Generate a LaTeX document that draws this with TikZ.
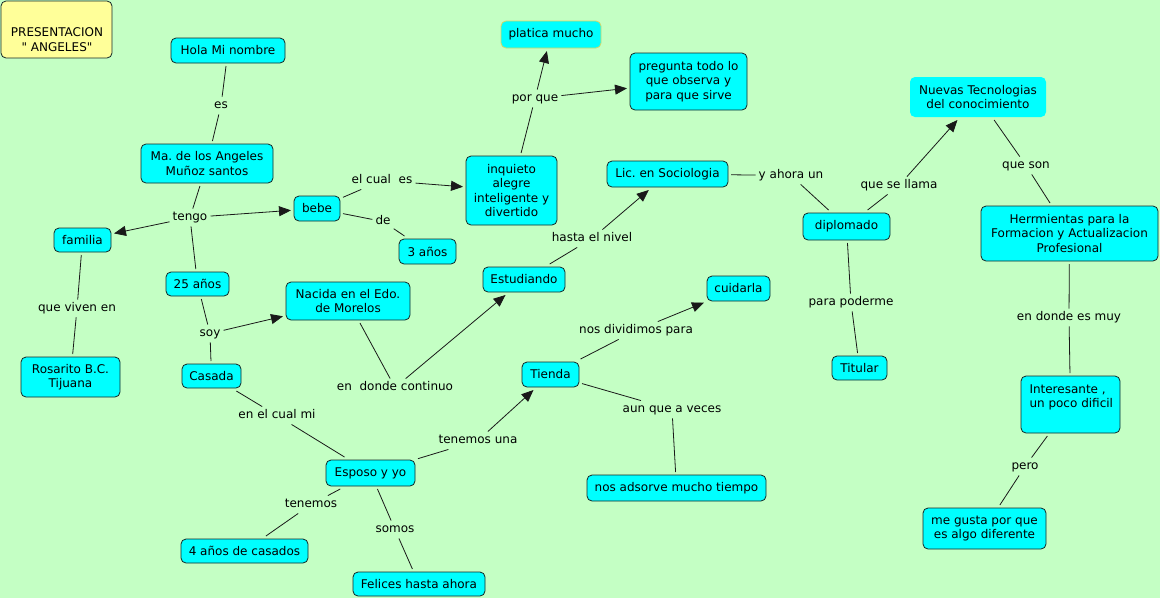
\documentclass[tikz,border=0pt]{standalone}
\usepackage{fontspec}
\setmainfont{DejaVu Sans}
\newfontfamily\dv{DejaVu Sans}
\usetikzlibrary{arrows.meta}
\definecolor{bg}{RGB}{196,255,196}
\definecolor{cy}{RGB}{0,255,255}
\definecolor{py}{RGB}{255,255,153}
\definecolor{lnk}{RGB}{25,25,25}
\definecolor{ylb}{RGB}{215,215,100}
\definecolor{bdr}{RGB}{20,40,40}
\frenchspacing
\begin{document}
\begin{tikzpicture}[x=1pt,y=-1pt,
 concept/.style={draw=bdr, fill=cy, rounded corners=5pt, line width=0.8pt, inner sep=0pt, outer sep=3pt, align=center, font=\dv\fontsize{12}{14.5}\selectfont},
 sz/.style 2 args={minimum width=#1pt, minimum height=#2pt},
 phrase/.style={inner sep=3pt, yshift=-1.5pt, font=\dv\fontsize{12}{14.5}\selectfont, text height=8.7pt, text depth=2.8pt},
 ln/.style={draw=lnk, line width=0.8pt},
 arr/.style={ln, -{Triangle[length=12pt,width=10pt]}},
]
\useasboundingbox (0,0) rectangle (1160,598);
\fill[bg] (0,0) rectangle (1160,598);

% title
\node[concept, fill=py, sz={111}{57}] (pres) at (56.5,29.5) {};
\node[align=center, inner sep=0pt, font=\dv\fontsize{12}{14.5}\selectfont] (prest) at (57,39.4) {PRESENTACION\\" ANGELES"};

% concepts
\node[concept, sz={114}{25}] (hola) at (228,50.5) {Hola Mi nombre};
\node[concept, sz={132}{39}] (ma) at (207,163.5) {Ma. de los Angeles\\Muñoz santos};
\node[concept, sz={57}{24}] (familia) at (82.5,240) {familia};
\node[concept, sz={46}{25}] (bebe) at (317,208.5) {bebe};
\node[concept, sz={57}{25}] (tres) at (427.5,251.5) {3 años};
\node[concept, sz={91}{69}] (inq) at (511.5,190.5) {inquieto\\alegre\\inteligente y\\divertido};
\node[concept, draw=ylb, sz={100}{27}] (platica) at (551,34.5) {platica mucho};
\node[concept, sz={117}{57}] (preg) at (688.5,81.5) {pregunta todo lo\\que observa y\\para que sirve};
\node[concept, sz={121}{26}] (lic) at (667.5,174) {Lic. en Sociologia};
\node[concept, sz={82}{25}] (estud) at (524,279.5) {Estudiando};
\node[concept, draw=none, sz={136}{40}] (nuevas) at (978,97) {Nuevas Tecnologias\\del conocimiento};
\node[concept, sz={87}{27}] (diplo) at (846.5,226.5) {diplomado};
\node[concept, sz={177}{55}] (herr) at (1069.5,233.5) {Herrmientas para la\\Formacion y Actualizacion\\Profesional};
\node[concept, sz={55}{24}] (titular) at (859.5,368) {Titular};
\node[concept, sz={63}{25}] (cuid) at (738.5,288.5) {cuidarla};
\node[concept, sz={57}{25}] (tienda) at (550.5,374.5) {Tienda};
\node[concept, sz={179}{26}] (nosads) at (676.5,488) {nos adsorve mucho tiempo};
\node[concept, sz={99}{57}] (inter) at (1070.5,404.5) {};
\node[anchor=west, align=left, inner sep=0pt, font=\dv\fontsize{12}{14.5}\selectfont] (intert) at (1029.3,397.5) {Interesante ,\\un poco dificil};
\node[concept, sz={123}{41}] (megusta) at (984.5,528.5) {me gusta por que\\es algo diferente};
\node[concept, sz={63}{24}] (veinti) at (197.5,284) {25 años};
\node[concept, sz={124}{38}] (nacida) at (348,301) {Nacida en el Edo.\\de Morelos};
\node[concept, sz={99}{40}] (rosarito) at (70.5,377) {Rosarito B.C.\\Tijuana};
\node[concept, sz={59}{24}] (casada) at (211.5,376) {Casada};
\node[concept, sz={89}{26}] (esposo) at (370.5,473) {Esposo y yo};
\node[concept, sz={127}{24}] (cuatro) at (244.5,551) {4 años de casados};
\node[concept, sz={132}{24}] (felices) at (419,584) {Felices hasta ahora};

% linking phrases
\node[phrase] (pes) at (221,104) {es};
\node[phrase] (ptengo) at (190,216) {tengo};
\node[phrase] (pelcual) at (382,179) {el cual~ es};
\node[phrase] (pde) at (383,220) {de};
\node[phrase] (pporque) at (535,97) {por que};
\node[phrase] (phasta) at (592,237) {hasta el nivel};
\node[phrase] (pyahora) at (791,174) {y ahora un};
\node[phrase] (pquese) at (899,184) {que se llama};
\node[phrase] (pqueson) at (1026,164) {que son};
\node[phrase] (ppara) at (851,301) {para poderme};
\node[phrase] (pdonde) at (1069,316) {en donde es muy};
\node[phrase] (ppero) at (1025,465) {pero};
\node[phrase] (pviven) at (77,307) {que viven en};
\node[phrase] (psoy) at (210,332) {soy};
\node[phrase] (pcontinuo) at (395,386) {en~ donde continuo};
\node[phrase] (pcualmi) at (277,414) {en el cual mi};
\node[phrase] (ptenemosuna) at (478,439) {tenemos una};
\node[phrase] (ptenemos) at (311,503) {tenemos};
\node[phrase] (psomos) at (395,528) {somos};
\node[phrase] (pdividimos) at (636,329) {nos dividimos para};
\node[phrase] (paunque) at (672,408) {aun que a veces};

% connectors
\draw[ln] (hola) -- (pes);
\draw[ln] (pes) -- (ma);
\draw[ln] (ma) -- (ptengo);
\draw[arr] (ptengo) -- (familia);
\draw[arr] (ptengo) -- (bebe);
\draw[ln] (ptengo) -- (veinti);
\draw[ln] (familia) -- (pviven);
\draw[ln] (pviven) -- (rosarito);
\draw[ln] (veinti) -- (psoy);
\draw[ln] (psoy) -- (casada);
\draw[arr] (psoy) -- (nacida);
\draw[ln] (bebe) -- (pelcual);
\draw[arr] (pelcual) -- (inq);
\draw[ln] (bebe) -- (pde);
\draw[ln] (pde) -- (tres);
\draw[ln] (inq) -- (pporque);
\draw[arr] (pporque) -- (platica);
\draw[arr] (pporque) -- (preg);
\draw[ln] (nacida) -- (pcontinuo);
\draw[arr] (pcontinuo) -- (estud);
\draw[ln] (estud) -- (phasta);
\draw[arr] (phasta) -- (lic);
\draw[ln] (lic) -- (pyahora);
\draw[ln] (pyahora) -- (diplo);
\draw[ln] (diplo) -- (pquese);
\draw[arr] (pquese) -- (nuevas);
\draw[ln] (diplo) -- (ppara);
\draw[ln] (ppara) -- (titular);
\draw[ln] (nuevas) -- (pqueson);
\draw[ln] (pqueson) -- (herr);
\draw[ln] (herr) -- (pdonde);
\draw[ln] (pdonde) -- (inter);
\draw[ln] (inter) -- (ppero);
\draw[ln] (ppero) -- (megusta);
\draw[ln] (casada) -- (pcualmi);
\draw[ln] (pcualmi) -- (esposo);
\draw[ln] (esposo) -- (ptenemosuna);
\draw[arr] (ptenemosuna) -- (tienda);
\draw[ln] (esposo) -- (ptenemos);
\draw[ln] (ptenemos) -- (cuatro);
\draw[ln] (esposo) -- (psomos);
\draw[ln] (psomos) -- (felices);
\draw[ln] (tienda) -- (pdividimos);
\draw[arr] (pdividimos) -- (cuid);
\draw[ln] (tienda) -- (paunque);
\draw[ln] (paunque) -- (nosads);
\end{tikzpicture}
\end{document}
